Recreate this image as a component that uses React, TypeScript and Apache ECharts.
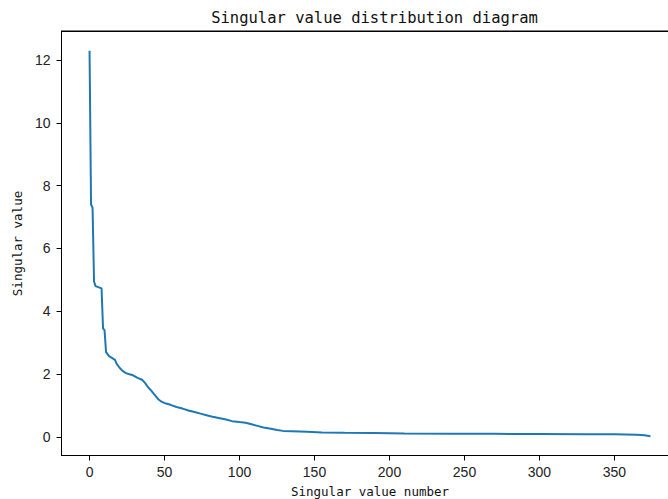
import React, { useEffect, useRef } from "react";
import * as echarts from "echarts";

const titleText = "Singular value distribution diagram";
const xAxisName = "Singular value number";
const yAxisName = "Singular value";

// singular value index (breakpoints)
const indices = [0, 1, 2, 3, 4, 8, 9, 10, 11, 13, 17, 18, 20, 22, 24, 26, 29, 32, 35, 37, 39, 41, 43, 46, 48, 51, 54, 58, 62, 66, 70, 74, 78, 82, 87, 91, 95, 100, 104, 108, 112, 116, 121, 125, 129, 135, 145, 155, 170, 190, 210, 240, 270, 300, 330, 350, 365, 370, 374];
// singular values at those indices
const values = [12.3, 7.4, 7.3, 4.95, 4.8, 4.73, 3.45, 3.4, 2.7, 2.57, 2.45, 2.33, 2.2, 2.1, 2.04, 2.0, 1.96, 1.88, 1.82, 1.72, 1.58, 1.48, 1.36, 1.19, 1.12, 1.06, 1.02, 0.95, 0.9, 0.84, 0.79, 0.74, 0.69, 0.64, 0.59, 0.55, 0.5, 0.47, 0.45, 0.4, 0.35, 0.3, 0.26, 0.22, 0.19, 0.18, 0.16, 0.14, 0.13, 0.12, 0.11, 0.1, 0.095, 0.09, 0.085, 0.08, 0.07, 0.05, 0.02];

const xTicks = [0, 50, 100, 150, 200, 250, 300, 350];
const yTicks = [0, 2, 4, 6, 8, 10, 12];

export default function App() {
  const ref = useRef<HTMLDivElement>(null);
  useEffect(() => {
    if (!ref.current) return;
    const chart = echarts.init(ref.current, undefined, { renderer: "svg" });
    const tickFont = { fontFamily: "Liberation Sans", fontSize: 14, color: "#222" };
    const xMin = -18.7;
    const xMax = 392.7;
    const yMin = -0.594;
    const yMax = 12.91;
    chart.setOption({
      animation: false,
      backgroundColor: "#fff",
      grid: { left: 61.5, top: 31.5, width: 617, height: 424, outerBoundsMode: "none", containLabel: false },
      xAxis: {
        type: "value",
        min: xMin,
        max: xMax,
        name: xAxisName,
        nameLocation: "middle",
        nameGap: 29,
        nameTextStyle: { fontFamily: "DejaVu Sans Mono", fontSize: 12.5, color: "#111" },
        axisLine: { show: true, onZero: false, lineStyle: { color: "#000", width: 1 } },
        axisTick: { show: true, length: 5, lineStyle: { color: "#000" }, customValues: xTicks },
        axisLabel: { ...tickFont, margin: 9, customValues: xTicks },
        splitLine: { show: false },
      },
      yAxis: {
        type: "value",
        min: yMin,
        max: yMax,
        name: yAxisName,
        nameLocation: "middle",
        nameGap: 30,
        nameTextStyle: { fontFamily: "DejaVu Sans Mono", fontSize: 12.5, color: "#111" },
        axisLine: { show: true, onZero: false, lineStyle: { color: "#000", width: 1 } },
        axisTick: { show: true, length: 5, lineStyle: { color: "#000" }, customValues: yTicks },
        axisLabel: { ...tickFont, margin: 11, customValues: yTicks },
        splitLine: { show: false },
      },
      series: [
        {
          type: "line",
          showSymbol: false,
          data: indices.map((x, i) => [x, values[i]]),
          lineStyle: { color: "#1f77b4", width: 2 },
          itemStyle: { color: "#1f77b4" },
        },
      ],
    });
    const tl = chart.convertToPixel({ gridIndex: 0 }, [xMin, yMax]) as number[];
    const br = chart.convertToPixel({ gridIndex: 0 }, [xMax, yMin]) as number[];
    chart.setOption({
      graphic: [
        {
          type: "text",
          x: 374.5,
          y: 17.5,
          style: { text: titleText, fontFamily: "DejaVu Sans Mono", fontSize: 15.5, fill: "#111", align: "center", verticalAlign: "middle" },
        },
        {
          type: "rect",
          z: 100,
          shape: { x: tl[0] - 0.5, y: tl[1] - 1, width: br[0] - tl[0] + 1, height: 1.6 },
          style: { fill: "#000" },
        },
        {
          type: "rect",
          z: 100,
          shape: { x: br[0] - 0.5, y: tl[1] - 1, width: 1, height: br[1] - tl[1] + 1 },
          style: { fill: "#000" },
        },
      ],
    });
    return () => chart.dispose();
  }, []);
  return (
    <div style={{ position: "fixed", left: 0, top: 0, width: 668, height: 499, overflow: "hidden", background: "#fff" }}>
      <div ref={ref} style={{ width: 690, height: 499 }} />
    </div>
  );
}
